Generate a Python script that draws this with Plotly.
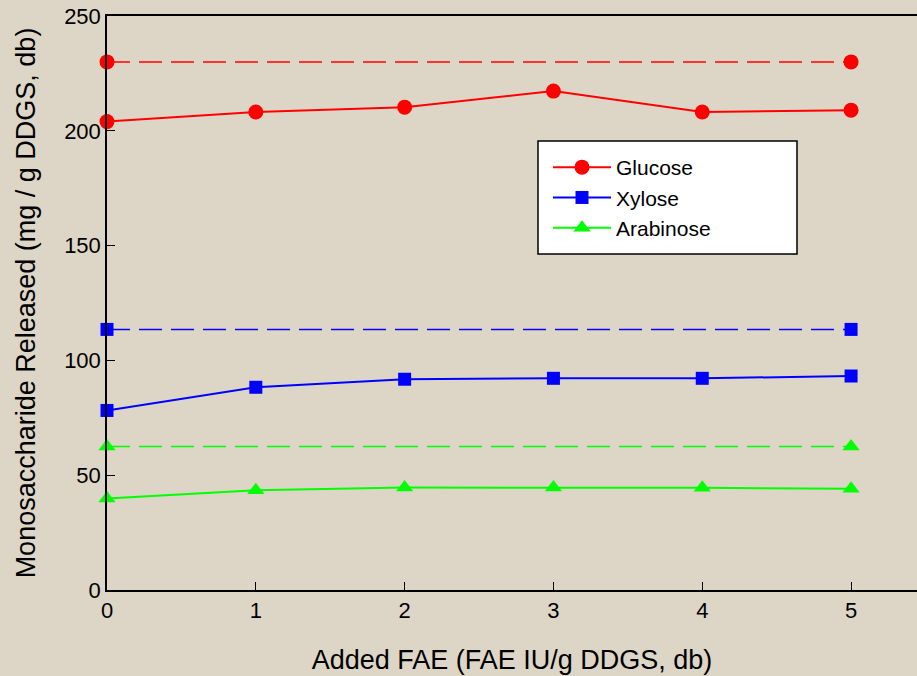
import plotly.graph_objects as go

fae = [0, 1, 2, 3, 4, 5]
glucose = [204, 208.2, 210.3, 217.3, 208.2, 209]
xylose = [78.2, 88.3, 91.8, 92.2, 92.2, 93.2]
arabinose = [39.8, 43.4, 44.6, 44.6, 44.5, 44.1]

ref_x = [0, 5]
glucose_ref = [230, 230]
xylose_ref = [113.5, 113.5]
arabinose_ref = [62.5, 62.5]

fig = go.Figure()

series = [
    ("Glucose", glucose, glucose_ref, "#FF0000", "circle", 15),
    ("Xylose", xylose, xylose_ref, "#0000FF", "square", 13),
    ("Arabinose", arabinose, arabinose_ref, "#00FF00", "triangle-up", 15),
]

for name, vals, ref, col, sym, sz in series:
    fig.add_trace(go.Scatter(
        x=ref_x, y=ref, mode="lines+markers", showlegend=False,
        line=dict(color=col, width=1.5, dash="23px,9px"),
        marker=dict(symbol=sym, size=sz, color=col, line=dict(width=0)),
        cliponaxis=False,
    ))

for name, vals, ref, col, sym, sz in series:
    fig.add_trace(go.Scatter(
        x=fae, y=vals, mode="lines+markers", name=name,
        line=dict(color=col, width=2),
        marker=dict(symbol=sym, size=sz, color=col, line=dict(width=0)),
        cliponaxis=False,
    ))

bg = "#DDD6C7"
fig.add_shape(
    type="rect", xref="paper", yref="paper",
    x0=(538 - 107) / 810, x1=(797 - 107) / 810,
    y0=(590 - 254) / 574, y1=(590 - 141) / 574,
    fillcolor="white", line=dict(color="black", width=1.5), layer="above",
)
fig.update_layout(
    width=917, height=676,
    paper_bgcolor=bg, plot_bgcolor=bg,
    margin=dict(l=107, r=0, t=16, b=86),
    font=dict(family="Liberation Sans, Arial, sans-serif", size=22, color="black"),
    legend=dict(
        x=(548 - 107) / 810, y=(590 - 147) / 574, xanchor="left", yanchor="top",
        bgcolor="rgba(0,0,0,0)", borderwidth=0,
        font=dict(size=21), itemwidth=58, tracegroupgap=0,
    ),
    showlegend=True,
)
fig.update_xaxes(
    range=[0, 5.443], tickvals=fae, ticks="inside", ticklen=8, tickcolor="black",
    showline=True, linecolor="black", linewidth=1.5, mirror=True,
    showgrid=False, zeroline=False,
    title=dict(text="Added FAE (FAE IU/g DDGS, db)", font=dict(size=27), standoff=28),
    tickfont=dict(size=22),
)
fig.update_yaxes(
    range=[0, 250], tickvals=[0, 50, 100, 150, 200, 250], ticks="inside", ticklen=8,
    tickcolor="black", showline=True, linecolor="black", linewidth=1.5, mirror=False,
    showgrid=False, zeroline=False,
    title=dict(text="Monosaccharide Released (mg / g DDGS, db)", font=dict(size=27), standoff=21),
    tickfont=dict(size=22),
)

fig.write_html("out.html")
